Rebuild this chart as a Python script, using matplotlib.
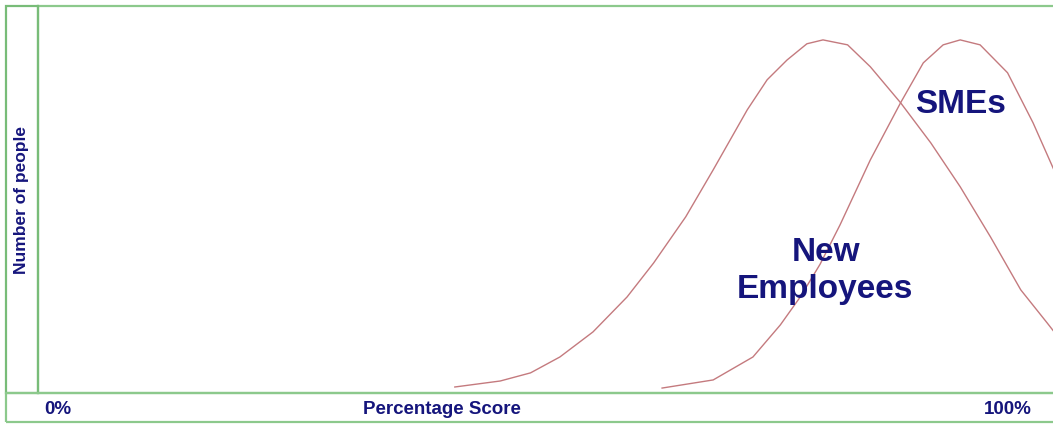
import matplotlib
matplotlib.use("Agg")
import matplotlib.pyplot as plt
from matplotlib.patches import Rectangle

# Score distribution curves (percentage score vs. relative number of people)
new_emp_score = [41.5, 46.3, 49.5, 52.6, 56.1, 59.7, 62.5, 65.9, 68.8, 72.4, 74.5, 76.6,
                 78.7, 80.4, 83.0, 85.4, 88.6, 91.8, 94.9, 98.1, 101.3, 104.1, 105.5]
new_emp_people = [1.7, 3.4, 5.7, 10.2, 17.3, 27.2, 36.8, 49.9, 63.2, 80.2, 88.7, 94.3,
                  98.9, 100.0, 98.6, 92.4, 82.2, 70.8, 58.4, 44.2, 29.2, 19.8, 15.0]

sme_score = [63.4, 68.8, 73.0, 75.9, 78.0, 80.1, 82.2, 85.4, 88.6, 91.0,
             93.1, 94.9, 97.0, 99.9, 102.6, 104.8, 106.0]
sme_people = [1.4, 3.7, 10.2, 19.3, 27.2, 36.5, 47.6, 66.0, 82.2, 93.5,
              98.6, 100.0, 98.6, 90.7, 76.5, 63.2, 54.7]

x_tick_labels = ["0%", "100%"]
x_label = "Percentage Score"
y_label = "Number of people"

W, H = 1053, 424
fig = plt.figure(figsize=(W / 100, H / 100), dpi=100)
fig.patch.set_facecolor("white")

GREEN = "#8cc98c"
CURVE = "#c47a7e"
NAVY = "#15157c"
FONT = ["Liberation Sans", "DejaVu Sans"]


def fx(px):
    return px / W


def fy(py):
    return 1 - py / H


# main plotting area
ax = fig.add_axes([fx(38), fy(393), fx(1070) - fx(38), fy(6) - fy(393)])
ax.set_xlim(-2.54, 106.5)
ax.set_ylim(0, 109.6)
ax.plot(new_emp_score, new_emp_people, color=CURVE, lw=1.0)
ax.plot(sme_score, sme_people, color=CURVE, lw=1.0)
ax.set_xticks([])
ax.set_yticks([])
for side, sp in ax.spines.items():
    sp.set_color(GREEN)
    sp.set_linewidth(1.6)
ax.spines["right"].set_visible(False)

label_style = dict(ha="center", va="baseline", fontsize=24, fontweight="bold",
                   color=NAVY, family=FONT)
ax.text(80.7, 37.4, "New", **label_style)
ax.text(80.6, 26.9, "Employees", **label_style)
ax.text(94.9, 79.3, "SMEs", **label_style)

# left label box
fig.patches.append(Rectangle((fx(6), fy(393)), fx(38) - fx(6), fy(6) - fy(393),
                             transform=fig.transFigure, fill=False,
                             edgecolor="#78bc78", lw=1.6))
fig.text(fx(21.5), fy(200), y_label, rotation=90, ha="center", va="center",
         fontsize=12.5, fontweight="bold", color=NAVY, family=FONT)

# bottom label strip
fig.patches.append(Rectangle((fx(6), fy(422)), fx(1080) - fx(6), fy(393) - fy(422),
                             transform=fig.transFigure, fill=False,
                             edgecolor=GREEN, lw=1.6))
axis_text = dict(va="baseline", fontsize=13.5, fontweight="bold", color=NAVY, family=FONT)
fig.text(fx(44), fy(413.5), x_tick_labels[0], ha="left", **axis_text)
fig.text(fx(1032), fy(413.5), x_tick_labels[1], ha="right", **axis_text)
fig.text(fx(442), fy(413.5), x_label, ha="center", **axis_text)

fig.savefig("out.png", dpi=100)
